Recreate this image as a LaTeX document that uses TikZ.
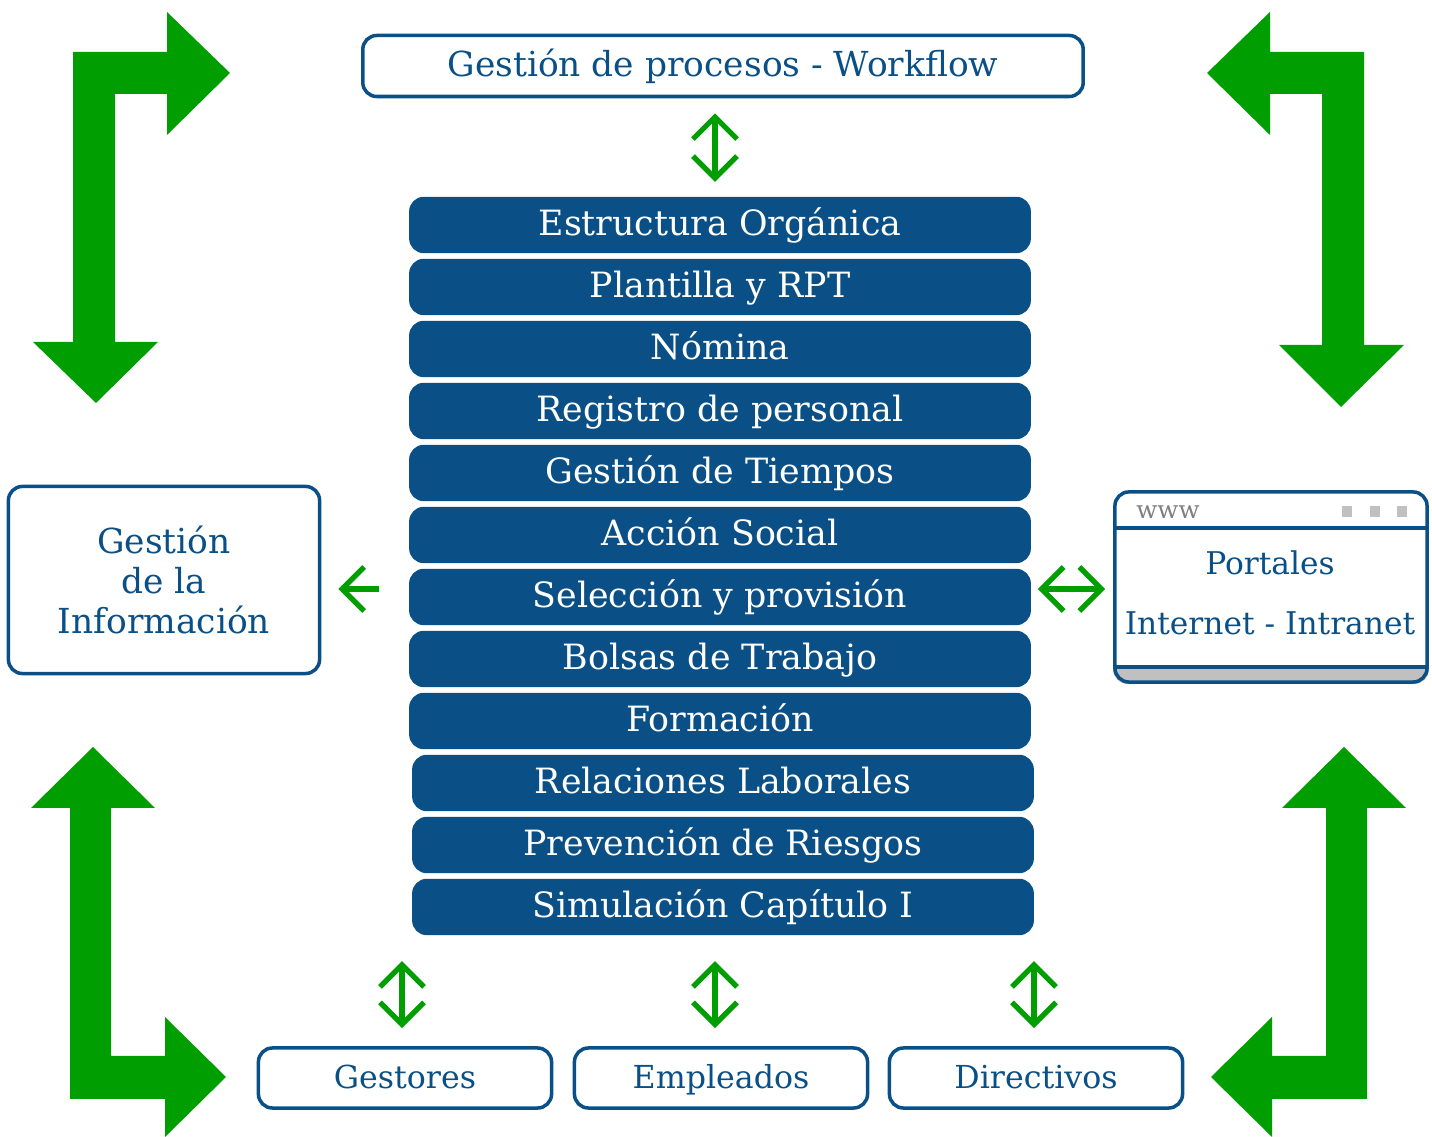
\documentclass[tikz,border=0pt]{standalone}
\usepackage{fontspec}
\setmainfont{DejaVu Serif}
\usetikzlibrary{arrows.meta,backgrounds}
\definecolor{azul}{RGB}{10,80,135}
\definecolor{verde}{RGB}{0,158,0}
\definecolor{gris}{RGB}{192,192,192}

\begin{document}
\begin{tikzpicture}[x = 0.01cm, y = -0.01cm,
	modulo/.style = {draw = azul, fill = azul, text = white, rounded corners = .14cm, minimum width = 6.2cm, minimum height = .55cm, inner sep = 0pt, text height = 1.6ex, text depth = .45ex, font = \fontsize{9.9}{11}\selectfont},
	caja/.style = {draw = azul, line width = 1pt, text = azul, rounded corners = .14cm, inner sep = 0pt, align = center, font = \fontsize{9}{11.4}\selectfont},
	flecha/.style = {draw = verde, line width = 1.5pt},
	punta/.style = {flecha, {Straight Barb[length = .22cm, width = .44cm]}-{Straight Barb[length = .22cm, width = .44cm]}},
	gorda/.style = {fill = verde}]
	\useasboundingbox (0, 0) rectangle (1432, 1137);

	% modulos
	\node[modulo] (Est) at (720, 225) {Estructura Orgánica};
	\node[modulo] (Pla) at (720, 287) {Plantilla y RPT};
	\node[modulo] (Nom) at (720, 349) {Nómina};
	\node[modulo] (Reg) at (720, 411) {Registro de personal};
	\node[modulo] (Tie) at (720, 473) {Gestión de Tiempos};
	\node[modulo] (Acc) at (720, 535) {Acción Social};
	\node[modulo] (Sel) at (720, 597) {Selección y provisión};
	\node[modulo] (Bol) at (720, 659) {Bolsas de Trabajo};
	\node[modulo] (For) at (720, 721) {Formación};
	\node[modulo] (Rel) at (723, 783) {Relaciones Laborales};
	\node[modulo] (Pre) at (723, 845) {Prevención de Riesgos};
	\node[modulo] (Sim) at (723, 907) {Simulación Capítulo I};

	% cajas
	\node[caja, minimum width = 7.2cm, minimum height = .61cm, text height = 1.6ex, text depth = .45ex, font = \fontsize{9.8}{11}\selectfont] (Flow) at (723, 66) {Gestión de procesos - Workflow};
	\node[caja, minimum width = 3.11cm, minimum height = 1.87cm, font = \fontsize{9.8}{11.4}\selectfont] (Info) at (164, 580) {Gestión\\de la\\Información};
	\node[caja, minimum width = 3.12cm, minimum height = 1.9cm] (Portal) at (1271, 587) {};
	\node[caja, draw = none, font = \fontsize{8.9}{17}\selectfont] (Port) at (1270, 593) {Portales\\Internet - Intranet};
	\node[caja, minimum width = 2.93cm, minimum height = .6cm, text height = 1.6ex, text depth = .45ex] (Gest) at (405, 1078) {Gestores};
	\node[caja, minimum width = 2.93cm, minimum height = .6cm, text height = 1.6ex, text depth = .45ex] (Emp) at (721, 1078) {Empleados};
	\node[caja, minimum width = 2.93cm, minimum height = .6cm, text height = 1.6ex, text depth = .45ex] (Dir) at (1036, 1078) {Directivos};

	% ventana del portal
	\begin{pgfonlayer}{background}
		\begin{scope}
			\clip ([yshift = .17cm]Portal.south west) rectangle (Portal.south east);
			\fill[gris, rounded corners = .14cm] (Portal.north west) rectangle (Portal.south east);
		\end{scope}
	\end{pgfonlayer}
	\draw[azul, line width = 1pt] ([yshift = -.38cm]Portal.north west) -- ([yshift = -.38cm]Portal.north east);
	\draw[azul, line width = 1pt] ([yshift = .17cm]Portal.south west) -- ([yshift = .17cm]Portal.south east);
	\node[text = gray, inner sep = 0pt, font = \fontsize{7}{8}\selectfont] (www) at (1168, 512) {www};
	\fill[gris] (1342, 506) rectangle (1352, 517);
	\fill[gris] (1370, 506) rectangle (1380, 517);
	\fill[gris] (1397, 506) rectangle (1407, 517);

	% flechas finas
	\draw[punta, shorten < = .15cm, shorten > = .15cm] ([xshift = -.05cm]Flow.south -| Est.north) -- ([xshift = -.05cm]Est.north);
	\draw[punta, shorten < = .26cm, shorten > = .18cm] ([xshift = -.03cm]Sim.south -| Gest.north) -- ([xshift = -.03cm]Gest.north);
	\draw[punta, shorten < = .26cm, shorten > = .18cm] ([xshift = -.06cm]Sim.south -| Emp.north) -- ([xshift = -.06cm]Emp.north);
	\draw[punta, shorten < = .26cm, shorten > = .18cm] ([xshift = -.02cm]Sim.south -| Dir.north) -- ([xshift = -.02cm]Dir.north);
	\draw[flecha, -{Straight Barb[length = .22cm, width = .44cm]}, shorten < = .3cm, shorten > = .17cm] ([yshift = .08cm]Sel.west) -- ([yshift = .08cm]Sel.west -| Info.east);
	\draw[punta, shorten < = .07cm, shorten > = .08cm] ([yshift = .08cm]Sel.east) -- ([yshift = .08cm]Sel.east -| Portal.west);

	% flechas gordas
	\fill[gorda] (73, 342) -- (73, 52) -- (167, 52) -- (167, 12) -- (230, 73) -- (167, 135) -- (167, 94) -- (115, 94) -- (115, 342) -- (158, 342) -- (96, 403) -- (33, 342) -- cycle;
	\fill[gorda] (1364, 345) -- (1364, 52) -- (1270, 52) -- (1270, 12) -- (1207, 73) -- (1270, 135) -- (1270, 94) -- (1322, 94) -- (1322, 345) -- (1279, 345) -- (1341, 407) -- (1404, 345) -- cycle;
	\fill[gorda] (70, 808) -- (31, 808) -- (93, 747) -- (155, 808) -- (111, 808) -- (111, 1056) -- (165, 1056) -- (165, 1017) -- (226, 1077) -- (165, 1137) -- (165, 1099) -- (70, 1099) -- cycle;
	\fill[gorda] (1367, 808) -- (1406, 808) -- (1344, 747) -- (1282, 808) -- (1326, 808) -- (1326, 1056) -- (1272, 1056) -- (1272, 1017) -- (1211, 1077) -- (1272, 1137) -- (1272, 1099) -- (1367, 1099) -- cycle;
\end{tikzpicture}
\end{document}
